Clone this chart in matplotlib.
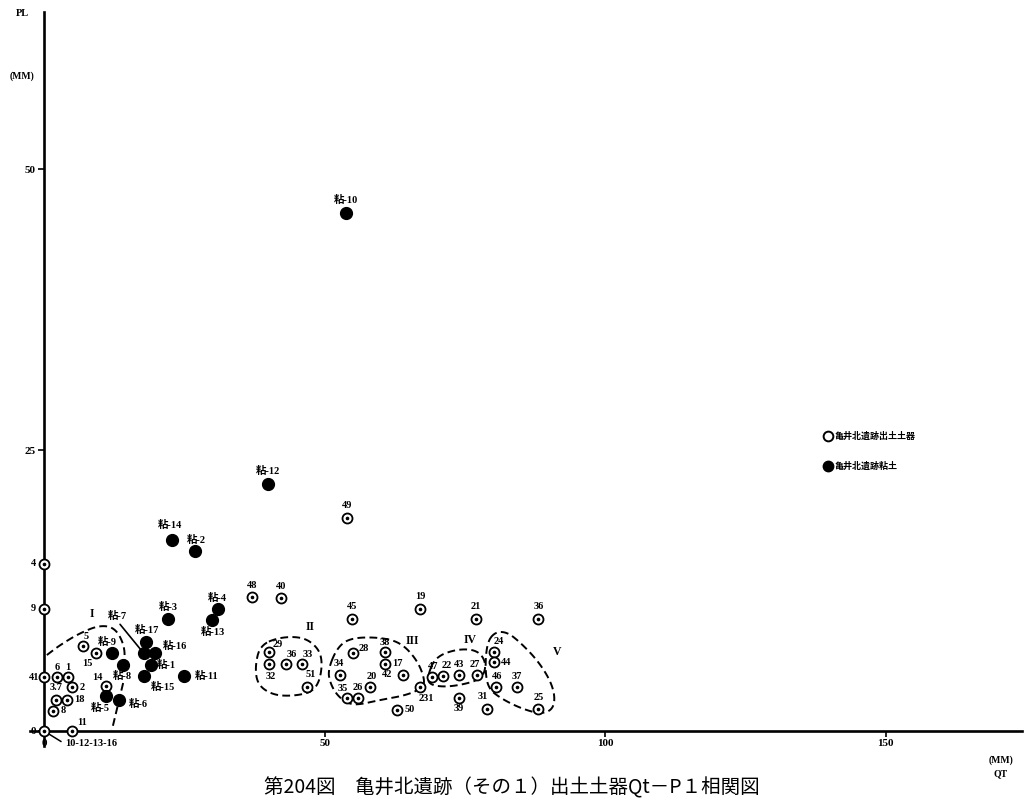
import matplotlib
matplotlib.use('Agg')
import matplotlib.pyplot as plt
from matplotlib.lines import Line2D
import numpy as np

plt.rcParams['font.family'] = ['Liberation Serif', 'Noto Sans CJK JP', 'DejaVu Sans']

# ---------------- data ----------------
sherd_labels = ['5', '15', '14', '6', '1', '41', '2', '3.7', '18', '8', '11', '10-12-13-16',
                '4', '9', '48', '40', '45', '19', '21', '36', '49',
                '29', '32', '36', '33', '51',
                '28', '38', '17', '34', '42', '20', '35', '26', '231', '50',
                '47', '22', '43', '27', '24', '44', '46', '37', '25', '39', '31']
sherd_qt = [7.0, 9.3, 11.1, 2.3, 4.3, 0.0, 5.0, 2.1, 4.1, 1.6, 5.0, 0.0,
            0.0, 0.0, 37.1, 42.2, 54.9, 67.0, 77.0, 88.1, 54.0,
            40.1, 40.1, 43.1, 46.0, 46.9,
            55.1, 60.8, 60.8, 52.8, 64.0, 58.1, 54.0, 56.0, 67.0, 62.9,
            69.2, 71.1, 74.0, 77.2, 80.2, 80.2, 80.6, 84.3, 88.1, 74.0, 79.0]
sherd_pl = [7.6, 6.9, 4.0, 4.8, 4.8, 4.8, 3.9, 2.8, 2.8, 1.8, 0.0, 0.0,
            14.9, 10.9, 11.9, 11.8, 10.0, 10.9, 10.0, 10.0, 19.0,
            7.0, 6.0, 6.0, 6.0, 3.9,
            6.9, 7.0, 6.0, 5.0, 5.0, 3.9, 2.9, 2.9, 3.9, 1.9,
            4.8, 4.9, 5.0, 5.0, 7.0, 6.1, 3.9, 3.9, 2.0, 2.9, 2.0]

clay_labels = ['粘-17', '粘-7', '粘-16', '粘-1', '粘-15', '粘-11', '粘-9', '粘-8', '粘-5',
               '粘-6', '粘-3', '粘-4', '粘-13', '粘-14', '粘-2', '粘-12', '粘-10']
clay_qt = [18.2, 17.8, 19.8, 19.1, 17.8, 25.0, 12.1, 14.1, 11.1,
           13.4, 22.1, 31.0, 29.9, 22.8, 26.9, 39.9, 53.8]
clay_pl = [7.9, 6.9, 6.9, 5.9, 4.9, 4.9, 6.9, 5.9, 3.1,
           2.8, 10.0, 10.9, 9.9, 17.0, 16.0, 22.0, 46.1]

group_names = ['I', 'II', 'III', 'IV', 'V']

legend_labels = ['亀井北遺跡出土土器', '亀井北遺跡粘土']
title = '第204図　亀井北遺跡（その１）出土土器Qt－P１相関図'
x_ticks = [0, 50, 100, 150]
y_ticks = [0, 25, 50]

# ---------------- layout / style (pixel offsets of labels) ----------------
sherd_off = [(3, -9), (-9, 10), (-9, -9), (0, -10), (0, -10), (-10, 0), (10, 0), (0, -12), (12, 0), (10, 0), (10, -8), None,
             (-11, 0), (-11, 0), (0, -12), (0, -12), (0, -12), (0, -12), (0, -12), (0, -12), (0, -12),
             (9, -8), (2, 13), (6, -9), (6, -9), (4, -13),
             (11, -5), (0, -10), (12, 0), (-1, -11), (-16, 0), (2, -11), (-4, -10), (0, -11), (6, 11), (13, 0),
             (1, -11), (4, -10), (0, -10), (-2, -10), (5, -11), (12, 0), (1, -11), (0, -11), (0, -11), (0, 10), (-4, -12)]
clay_off = [(1, -12), None, (20, -8), (15, 0), (19, 11), (22, 0), (-5, -12), (-1, 11), (-6, 12),
            (19, 4), (0, -12), (-1, -11), (1, 12), (-2, -15), (1, -11), (0, -13), (0, -13)]

group_label_pos = [(8.6, 10.4), (47.4, 9.25), (65.6, 8.0), (75.9, 8.1), (91.4, 7.0)]

outline_II = [(38.5, 7.65), (42.1, 8.36), (46.2, 8.36), (48.7, 7.47), (49.6, 6.32), (49.2, 4.54),
              (47.8, 3.47), (44.4, 3.11), (40.8, 3.20), (38.1, 4.09), (37.6, 5.69)]
outline_III = [(50.6, 5.43), (52.2, 7.38), (54.5, 8.27), (59.4, 8.36), (63.5, 7.92), (66.5, 6.32),
               (67.9, 4.54), (67.4, 3.83), (64.7, 3.20), (59.9, 2.76), (55.8, 2.31), (54.0, 2.49),
               (52.2, 3.20), (51.0, 4.27)]
outline_IV = [(68.3, 4.80), (69.7, 6.58), (73.6, 7.30), (77.2, 7.21), (78.8, 6.14), (78.3, 4.80),
              (75.9, 4.27), (71.8, 3.91), (68.8, 4.09)]
outline_V = [(79.0, 7.92), (80.4, 8.81), (82.5, 8.81), (84.8, 7.92), (87.9, 6.32), (90.2, 4.54),
             (91.1, 3.02), (90.6, 1.87), (88.4, 1.51), (84.8, 2.05), (81.3, 2.94), (79.1, 3.83),
             (78.6, 5.69)]
outline_I_a = [(0.5, 6.76), (2.85, 7.65), (6.4, 8.72), (10.0, 9.43), (12.7, 9.16), (14.3, 7.65), (14.4, 6.14)]
outline_I_b = [(14.1, 4.27), (12.1, 0.09)]


def chaikin(pts, closed=True, n=3):
    p = np.array(pts, dtype=float)
    for _ in range(n):
        if closed:
            a = p
            q = np.roll(p, -1, axis=0)
        else:
            a = p[:-1]
            q = p[1:]
        new = np.empty((2 * len(a), 2))
        new[0::2] = 0.75 * a + 0.25 * q
        new[1::2] = 0.25 * a + 0.75 * q
        if not closed:
            new = np.vstack([p[0], new, p[-1]])
        p = new
    if closed:
        p = np.vstack([p, p[0]])
    return p


PX = 0.72  # pixel -> points

fig = plt.figure(figsize=(10.26, 8.05), dpi=100)
ax_l, ax_r, ax_t, ax_b = 30, 1022, 12, 745.6
ax = fig.add_axes([ax_l / 1026, (805 - ax_b) / 805, (ax_r - ax_l) / 1026, (ax_b - ax_t) / 805])
ax.set_xlim(-2.5, 174.3)
ax.set_ylim(-1.3, 64.0)

for s in ['top', 'right']:
    ax.spines[s].set_visible(False)
ax.spines['left'].set_position(('data', 0))
ax.spines['bottom'].set_position(('data', 0))
for s in ['left', 'bottom']:
    ax.spines[s].set_linewidth(1.9)
ax.set_xticks(x_ticks)
ax.set_yticks(y_ticks)
ax.tick_params(axis='both', direction='out', length=4, width=1.2, labelsize=8, pad=2)
for lab in ax.get_xticklabels() + ax.get_yticklabels():
    lab.set_fontweight('bold')

tfont = dict(fontsize=7.5, fontweight='bold')

# outlines
dash = (0, (4, 2.2))
for shape in [outline_II, outline_III, outline_IV, outline_V]:
    p = chaikin(shape, closed=True)
    ax.plot(p[:, 0], p[:, 1], color='black', lw=1.4, linestyle=dash, zorder=2)
for shape in [outline_I_a, outline_I_b]:
    p = chaikin(shape, closed=False)
    ax.plot(p[:, 0], p[:, 1], color='black', lw=1.4, linestyle=dash, zorder=2)

for name, (gx, gy) in zip(group_names, group_label_pos):
    ax.text(gx, gy, name, ha='center', va='center', fontsize=8.5, fontweight='bold')

# sherds (open circles with centre dot)
ax.plot(sherd_qt, sherd_pl, linestyle='none', marker='o', ms=7.2, mfc='white', mec='black', mew=1.3, zorder=4,
        clip_on=False)
ax.plot(sherd_qt, sherd_pl, linestyle='none', marker='o', ms=1.6, mfc='black', mec='black', zorder=5,
        clip_on=False)

# clay (filled circles)
ax.plot(clay_qt, clay_pl, linestyle='none', marker='o', ms=8.5, mfc='black', mec='black', zorder=4)

for lbl, x, y, off in zip(sherd_labels, sherd_qt, sherd_pl, sherd_off):
    if off is None:
        ax.annotate(lbl, (x, y), xytext=(21 * PX, -13 * PX), textcoords='offset points',
                    ha='left', va='center',
                    arrowprops=dict(arrowstyle='-', lw=1.1, color='black', shrinkA=1, shrinkB=2,
                                    relpos=(0, 0.5)), **tfont)
    else:
        ax.annotate(lbl, (x, y), xytext=(off[0] * PX, -off[1] * PX), textcoords='offset points',
                    ha='center', va='center', **tfont)

for lbl, x, y, off in zip(clay_labels, clay_qt, clay_pl, clay_off):
    if off is None:
        ax.annotate(lbl, (x, y), xytext=(-27 * PX, 38 * PX), textcoords='offset points',
                    ha='center', va='center',
                    arrowprops=dict(arrowstyle='-', lw=1.2, color='black', shrinkA=1, shrinkB=4,
                                    relpos=(0.5, 0)), **tfont)
    else:
        ax.annotate(lbl, (x, y), xytext=(off[0] * PX, -off[1] * PX), textcoords='offset points',
                    ha='center', va='center', **tfont)

# legend
handles = [Line2D([], [], linestyle='none', marker='o', ms=7, mfc='white', mec='black', mew=1.4),
           Line2D([], [], linestyle='none', marker='o', ms=7.5, mfc='black', mec='black')]
leg = ax.legend(handles, legend_labels, loc='upper left',
                bbox_to_anchor=((824 - ax_l) / (ax_r - ax_l), (ax_b - 432) / (ax_b - ax_t)),
                frameon=False, handlelength=0.9, handletextpad=0.3, labelspacing=2.3,
                borderpad=0, borderaxespad=0, prop=dict(size=6.5, weight='bold'))

# axis titles
fig.text(22 / 1026, 1 - 13 / 805, 'PL', ha='center', va='center', fontsize=7.5, fontweight='bold')
fig.text(22 / 1026, 1 - 76 / 805, '(MM)', ha='center', va='center', fontsize=7, fontweight='bold')
fig.text(1001 / 1026, 1 - 760 / 805, '(MM)', ha='center', va='center', fontsize=7, fontweight='bold')
fig.text(1001 / 1026, 1 - 774 / 805, 'QT', ha='center', va='center', fontsize=7, fontweight='bold')

fig.text(512 / 1026, 1 - 788 / 805, title, ha='center', va='center', fontsize=14,
         family=['Noto Sans CJK JP', 'DejaVu Sans'])

fig.savefig('out.png', dpi=100)
